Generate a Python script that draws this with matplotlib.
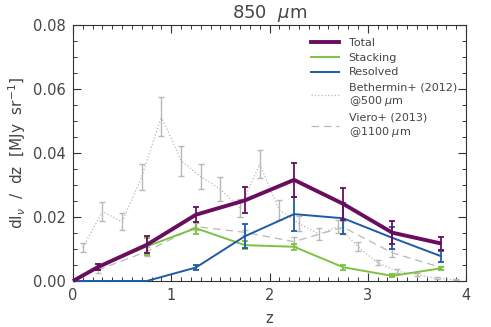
import matplotlib
matplotlib.use("Agg")
import matplotlib.pyplot as plt
from matplotlib.ticker import MultipleLocator
from matplotlib.lines import Line2D

# ---- data ----
z_main = [0.0, 0.25, 0.75, 1.25, 1.75, 2.25, 2.75, 3.25, 3.75]
total = [0.0, 0.0043, 0.0113, 0.0207, 0.0252, 0.0316, 0.0241, 0.0151, 0.0117]
total_err = [0.0, 0.0010, 0.0027, 0.0023, 0.0041, 0.0054, 0.0050, 0.0035, 0.0020]
stacking = [0.0, 0.0043, 0.0108, 0.0165, 0.0112, 0.0107, 0.0043, 0.0016, 0.0040]
stacking_err = [0.0, 0.0009, 0.0026, 0.0019, 0.0013, 0.0010, 0.0008, 0.0005, 0.0005]
resolved = [0.0, 0.0, 0.0, 0.0042, 0.0140, 0.0209, 0.0196, 0.0135, 0.0077]
resolved_err = [0.0, 0.0, 0.0, 0.0008, 0.0038, 0.0053, 0.0048, 0.0034, 0.0018]

z_beth = [0.1, 0.3, 0.5, 0.7, 0.9, 1.1, 1.3, 1.5, 1.7, 1.9,
          2.1, 2.3, 2.5, 2.7, 2.9, 3.1, 3.3, 3.5, 3.7, 3.9]
beth = [0.0105, 0.0217, 0.0185, 0.0326, 0.0514, 0.0376, 0.0326, 0.0287, 0.0228, 0.0365,
        0.0222, 0.0180, 0.0147, 0.0170, 0.0107, 0.0057, 0.0031, 0.0020, 0.0008, 0.0004]
beth_err = [0.0015, 0.0030, 0.0026, 0.0041, 0.0062, 0.0047, 0.0040, 0.0037, 0.0027, 0.0043,
            0.0031, 0.0023, 0.0018, 0.0021, 0.0014, 0.0008, 0.0005, 0.0004, 0.0003, 0.0002]

z_viero = [0.25, 0.75, 1.25, 1.75, 2.25, 2.75, 3.25, 3.75]
viero = [0.0034, 0.0092, 0.0170, 0.0152, 0.0123, 0.0168, 0.0088, 0.0042]
viero_err = [0.0008, 0.0015, 0.0010, 0.0008, 0.0014, 0.0020, 0.0013, 0.0004]

labels = ["Total", "Stacking", "Resolved",
          "Bethermin+ (2012)\n@500 $\\mu$m", "Viero+ (2013)\n@1100 $\\mu$m"]

# ---- style ----
c_total = "#6a0d5f"
c_stack = "#7cc242"
c_res = "#1f5aa6"
c_gray = "#b8b8b8"
c_text = "#444444"

plt.rcParams["font.family"] = ["DejaVu Sans"]
plt.rcParams["mathtext.fontset"] = "dejavusans"

fig = plt.figure(figsize=(4.91, 3.27), dpi=100)
ax = fig.add_axes([73 / 491, 1 - 281 / 327, 393 / 491, 256 / 327])

# literature
ax.errorbar(z_beth, beth, yerr=beth_err, color=c_gray, ls=":", lw=0.9,
            ecolor=c_gray, elinewidth=1.0, capsize=2, capthick=1.0, zorder=2)
ax.errorbar(z_viero, viero, yerr=viero_err, color=c_gray, ls=(0, (6, 4)), lw=0.9,
            ecolor=c_gray, elinewidth=1.0, capsize=2, capthick=1.0, zorder=2)

# this work
def draw(y, err, col, lw, zo):
    ax.plot(z_main, y, color=col, lw=lw, zorder=zo, clip_on=False,
            solid_capstyle="butt")
    zz = [z for z, e in zip(z_main, err) if e > 0]
    yy = [v for v, e in zip(y, err) if e > 0]
    ee = [e for e in err if e > 0]
    ax.errorbar(zz, yy, yerr=ee, fmt="none", ecolor=col, elinewidth=1.3,
                capsize=2.2, capthick=1.3, zorder=zo)

draw(stacking, stacking_err, c_stack, 1.4, 4)
draw(resolved, resolved_err, c_res, 1.4, 5)
draw(total, total_err, c_total, 2.8, 6)

ax.set_xlim(0, 4)
ax.set_ylim(0, 0.08)
ax.xaxis.set_major_locator(MultipleLocator(1))
ax.xaxis.set_minor_locator(MultipleLocator(0.1))
ax.yaxis.set_major_locator(MultipleLocator(0.02))
ax.yaxis.set_minor_locator(MultipleLocator(0.005))
ax.set_yticks([0, 0.02, 0.04, 0.06, 0.08])
ax.set_yticklabels(["0.00", "0.02", "0.04", "0.06", "0.08"])
ax.tick_params(which="both", direction="in", top=True, right=True,
               colors="#333333", labelcolor=c_text, labelsize=10.5)
ax.tick_params(which="major", length=6, width=0.8, pad=5)
ax.tick_params(which="minor", length=3, width=0.7)
for s in ax.spines.values():
    s.set_color("#333333")
    s.set_linewidth(0.8)

ax.set_xlabel("z", color=c_text, fontsize=10.5, labelpad=6)
ax.set_ylabel("dI$_\\nu$  /  dz  [MJy  sr$^{-1}$]", color=c_text, fontsize=11,
              labelpad=4)
ax.set_title("850  $\\mu$m", color=c_text, fontsize=13, pad=5)

# legend
handles = [Line2D([], [], color=c_total, lw=2.8),
           Line2D([], [], color=c_stack, lw=1.4),
           Line2D([], [], color=c_res, lw=1.4),
           Line2D([], [], color=c_gray, lw=0.9, ls=":"),
           Line2D([], [], color=c_gray, lw=0.9, ls=(0, (6, 4)))]
leg = ax.legend(handles, labels, loc="upper left", bbox_to_anchor=(0.588, 0.975),
                frameon=False, fontsize=8, handlelength=2.5, handletextpad=0.9,
                labelspacing=0.42, borderaxespad=0.2)
for t in leg.get_texts():
    t.set_color(c_text)

fig.savefig("out.png", dpi=100)
